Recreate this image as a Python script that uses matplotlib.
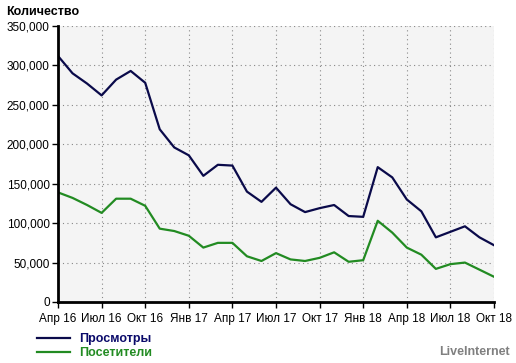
import matplotlib.pyplot as plt

# monthly values, Apr 2016 .. Oct 2018
views = [312000, 290000, 277000, 262000, 282000, 293000, 278000, 219000,
         196000, 186000, 160000, 174000, 173000, 140000, 127000, 145000,
         124000, 114000, 119000, 123000, 109000, 108000, 171000, 158000,
         130000, 115000, 82000, 89000, 96000, 82000, 72000]
visitors = [139000, 132000, 123000, 113000, 131000, 131000, 122000, 93000,
            90000, 84000, 69000, 75000, 75000, 58000, 52000, 62000,
            54000, 52000, 56000, 63000, 51000, 53000, 103000, 88000,
            69000, 60000, 42000, 48000, 50000, 41000, 32000]
tick_labels = ["Апр 16", "Июл 16", "Окт 16", "Янв 17", "Апр 17", "Июл 17",
               "Окт 17", "Янв 18", "Апр 18", "Июл 18", "Окт 18"]
y_ticks = [0, 50000, 100000, 150000, 200000, 250000, 300000, 350000]

plt.rcParams['font.family'] = ['Liberation Sans', 'DejaVu Sans']

fig = plt.figure(figsize=(5.16, 3.63), dpi=100)
ax = fig.add_axes([58 / 516, 1 - 302 / 363, 436 / 516, 276 / 363])
ax.set_facecolor('#f4f4f4')

x = list(range(len(views)))
l1, = ax.plot(x, views, color='#0a0a4a', lw=1.6, label='Просмотры')
l2, = ax.plot(x, visitors, color='#228b22', lw=1.6, label='Посетители')

ax.set_xlim(0, len(views) - 1)
ax.set_ylim(0, 350000)
ax.set_xticks(range(0, len(views), 3))
ax.set_xticklabels(tick_labels)
ax.set_yticks(y_ticks)
ax.set_yticklabels(['0'] + [f"{v:,}" for v in y_ticks[1:]])
ax.tick_params(labelsize=8.5, length=4, width=1, color='black')
ax.tick_params(axis='x', pad=4)
ax.tick_params(axis='y', pad=2)

ax.grid(True, linestyle=(0, (1, 3)), color='#888888', lw=0.8)
ax.set_axisbelow(True)
for side in ['top', 'right']:
    ax.spines[side].set_visible(False)
for side in ['left', 'bottom']:
    ax.spines[side].set_linewidth(2)

fig.text(6 / 516, 1 - 12 / 363, 'Количество', fontsize=9, fontweight='bold', va='center')

leg = fig.legend(handles=[l1, l2], loc='upper left', bbox_to_anchor=(37 / 516, 1 - 333 / 363),
                 frameon=False, fontsize=9, handlelength=2.6, handletextpad=0.8,
                 labelspacing=0.15, borderaxespad=0, borderpad=0)
for txt, c in zip(leg.get_texts(), ['#0a0a6a', '#228b22']):
    txt.set_color(c)
    txt.set_fontweight('bold')

fig.text(510 / 516, 1 - 352 / 363, 'LiveInternet', fontsize=9, fontweight='bold',
         color='#808080', ha='right', va='center')

fig.savefig('out.png', dpi=100)
